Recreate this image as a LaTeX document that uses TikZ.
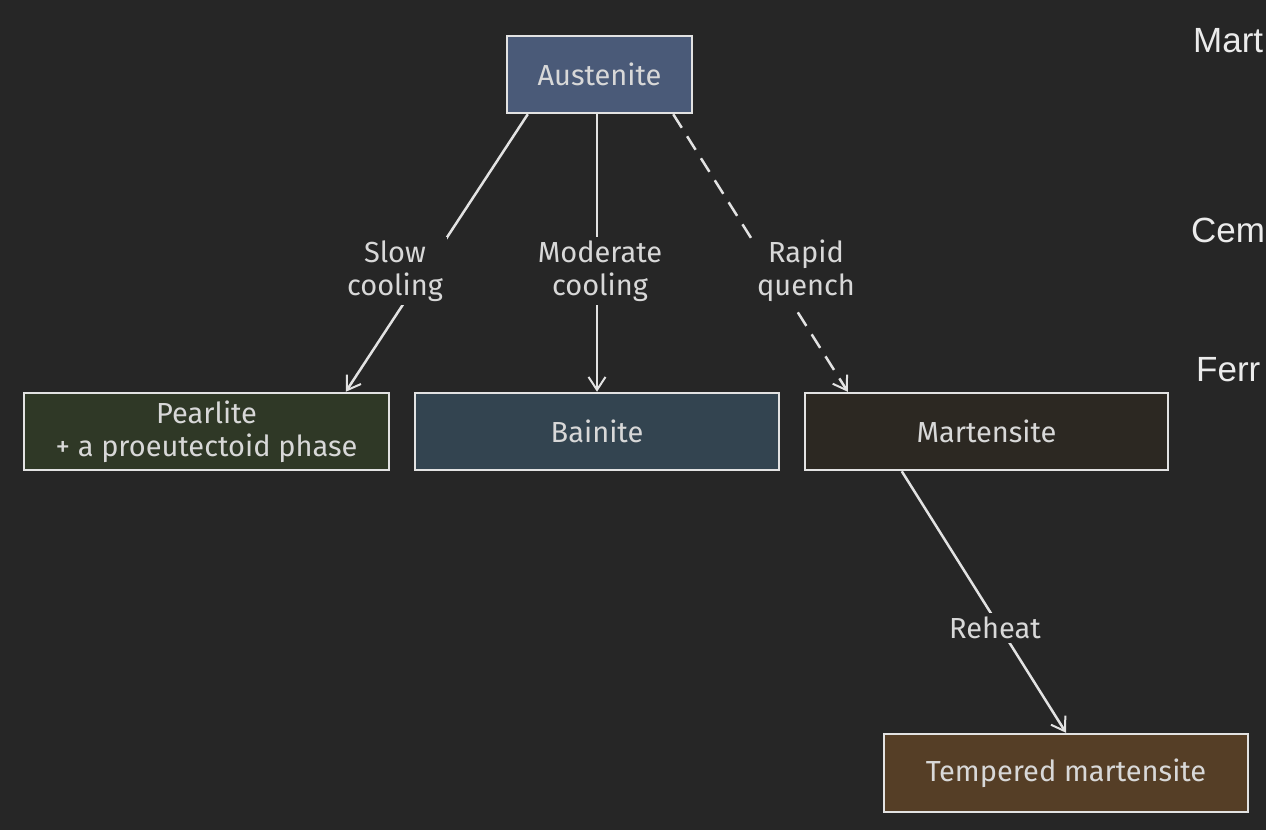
\documentclass[tikz,border=0pt]{standalone}
\usepackage{fontspec}
\setmainfont{Fira Sans}
\newfontfamily\sidefont{Liberation Sans}
\usetikzlibrary{arrows.meta,calc}
\definecolor{bg}{HTML}{262626}
\definecolor{txt}{HTML}{D8D8D8}
\definecolor{edge}{HTML}{E2E2E2}
\definecolor{ausC}{HTML}{4A5A78}
\definecolor{pearC}{HTML}{2F3826}
\definecolor{bainC}{HTML}{334450}
\definecolor{martC}{HTML}{2C2822}
\definecolor{tempC}{HTML}{553E26}
\tikzset{
  phase/.style={draw=edge, line width=2.5pt, text=txt, minimum height=77pt, inner sep=0pt, align=center,
     font=\fontsize{29}{33}\selectfont},
  conn/.style={draw=edge, line width=2.5pt, -{Straight Barb[length=13pt,width=17pt,line width=2pt]}},
  dashconn/.style={conn, dash pattern=on 16pt off 10pt},
  lbl/.style={fill=bg, text=txt, align=center, inner sep=4pt, font=\fontsize{29}{33}\selectfont},
  side/.style={anchor=base west, text=white!92!black, inner sep=0pt, font=\sidefont\fontsize{35}{40}\selectfont}
}
\begin{document}
\begin{tikzpicture}[x=1pt,y=-1pt]
\fill[bg] (0,0) rectangle (1266,830);
\useasboundingbox (0,0) rectangle (1266,830);
\node[phase, fill=ausC, minimum width=185pt] (aus) at (599.5,74.5) {Austenite};
\node[phase, fill=pearC, minimum width=365pt] (pear) at (206.5,431.5) {Pearlite\\+ a proeutectoid phase};
\node[phase, fill=bainC, minimum width=364pt] (bain) at (597,431.5) {Bainite};
\node[phase, fill=martC, minimum width=363pt] (mart) at (986.5,431.5) {Martensite};
\node[phase, fill=tempC, minimum width=364pt, minimum height=78pt] (temp) at (1066,773) {Tempered martensite};
\draw[conn] ($(aus.south west)+(22,0)$) -- ($(pear.north west)+(323,0)$);
\draw[conn] ($(aus.south)+(-2.5,0)$) -- (bain.north);
\draw[dashconn] ($(aus.south east)+(-20,0)$) -- ($(mart.north west)+(44,0)$);
\draw[conn] ($(mart.south west)+(98,0)$) -- (temp.north);
\node[lbl] (l1) at (395,271) {Slow\\cooling};
\node[lbl] (l2) at (600,271) {Moderate\\cooling};
\node[lbl] (l3) at (806,271) {Rapid\\quench};
\node[lbl] (l4) at (995,628) {Reheat};
\node[side] (s1) at (1193,52) {Mart};
\node[side] (s2) at (1191,242) {Cem};
\node[side] (s3) at (1196,381) {Ferr};
\end{tikzpicture}
\end{document}
